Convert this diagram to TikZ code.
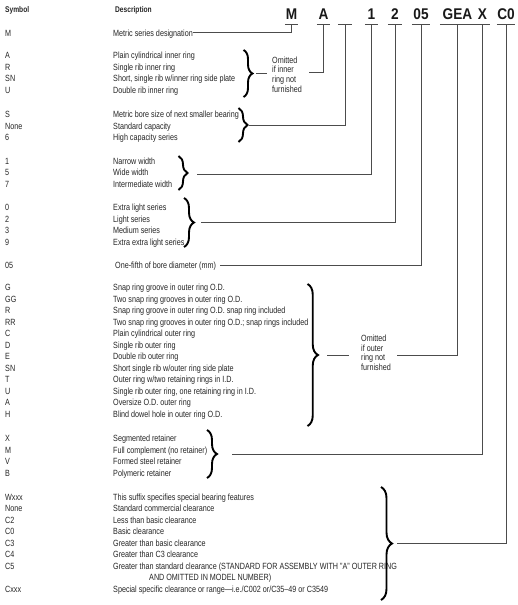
\documentclass[tikz,border=0pt]{standalone}
\usepackage{fontspec}
\setmainfont{Liberation Sans}[FakeStretch=0.8]
\newfontfamily\codefont{Liberation Sans}[FakeStretch=0.88]
\usetikzlibrary{decorations.pathreplacing}
\definecolor{txt}{gray}{0.15}
\definecolor{ln}{gray}{0.3}
\begin{document}
\begin{tikzpicture}[x=1pt,y=-1pt,
  row/.style={anchor=west, inner sep=0pt, text height=6.5pt, text depth=0pt,
    font=\fontsize{9}{11}\selectfont, text=txt},
  head/.style={anchor=west, inner sep=0pt, text height=6.5pt, text depth=0pt,
    font=\fontsize{8.3}{10}\selectfont\bfseries, text=txt},
  note/.style={anchor=north west, inner xsep=0pt, inner ysep=0pt, align=left,
    font=\fontsize{9}{9.6}\selectfont, text=txt},
  code/.style={anchor=base, inner xsep=0pt, inner ysep=4.5pt, text depth=0pt,
    font=\codefont\fontsize{15.5}{16}\selectfont\bfseries, text=black!90},
  conn/.style={draw=ln, line width=0.75pt},
  brc/.style={decorate, decoration={brace, amplitude=#1}, draw=black, line width=1.9pt},
  brc/.default=9pt]
\fill[white] (0,0) rectangle (518,605);
\useasboundingbox (0,0) rectangle (518,605);

% header
\node[head] (hS) at (5,9.3) {Symbol};
\node[head] (hD) at (115,9.3) {Description};

% code letters
\node[code, minimum width=13pt] (cM) at (291.5,19.5) {M};
\node[code, minimum width=13pt] (cA) at (323.5,19.5) {A};
\node[code, minimum width=14pt] (cB) at (345,19.5) {\phantom{0}};
\node[code, minimum width=13pt] (c1) at (371.5,19.5) {1};
\node[code, minimum width=14pt] (c2) at (395,19.5) {2};
\node[code, minimum width=18pt] (c05) at (421,19.5) {05};
\node[code, minimum width=35pt] (cG) at (457.5,19.5) {GEA};
\node[code, minimum width=15pt] (cX) at (482.5,19.5) {X};
\node[code, minimum width=18pt] (cC) at (506,19.5) {C0};
\foreach \n in {cM,cA,cB,c1,c2,c05,cG,cX,cC}
  \draw[conn] (\n.south west) -- (\n.south east);

% rows
\foreach \y/\s/\d [count=\i] in {
  33/M/Metric series designation,
  55.5/A/Plain cylindrical inner ring,
  67/R/Single rib inner ring,
  78.5/SN/{Short, single rib w/inner ring side plate},
  90/U/Double rib inner ring,
  114.5/S/Metric bore size of next smaller bearing,
  126/None/Standard capacity,
  137/6/High capacity series,
  161/1/Narrow width,
  172.5/5/Wide width,
  184/7/Intermediate width,
  207.5/0/Extra light series,
  219/2/Light series,
  230.5/3/Medium series,
  242/9/Extra extra light series,
  287.5/G/Snap ring groove in outer ring O.D.,
  299/GG/Two snap ring grooves in outer ring O.D.,
  310.5/R/Snap ring groove in outer ring O.D. snap ring included,
  322/RR/Two snap ring grooves in outer ring O.D.; snap rings included,
  333.5/C/Plain cylindrical outer ring,
  345/D/Single rib outer ring,
  356.5/E/Double rib outer ring,
  368/SN/{Short single rib w/outer ring side plate},
  379.5/T/{Outer ring w/two retaining rings in I.D.},
  391/U/{Single rib outer ring, one retaining ring in I.D.},
  402.5/A/Oversize O.D. outer ring,
  414/H/Blind dowel hole in outer ring O.D.,
  438.5/X/Segmented retainer,
  450/M/Full complement (no retainer),
  461.5/V/Formed steel retainer,
  473/B/Polymeric retainer,
  497/Wxxx/This suffix specifies special bearing features,
  508.5/None/Standard commercial clearance,
  520/C2/Less than basic clearance,
  531.5/C0/Basic clearance,
  543/C3/Greater than basic clearance,
  554.5/C4/Greater than C3 clearance,
  566/C5/{Greater than standard clearance (STANDARD FOR ASSEMBLY WITH "A" OUTER RING},
  589.5/Cxxx/{Special specific clearance or range---i.e./C002 or/C35--49 or C3549}}
{
  \node[row] (s\i) at (5,\y) {\s};
  \node[row] (d\i) at (113,\y) {\d};
}
\node[row] (s05) at (5,265) {05};
\node[row] (d05) at (115,265) {One-fifth of bore diameter (mm)};
\node[row] (dC5b) at (149,577.5) {AND OMITTED IN MODEL NUMBER)};

% notes
\node[note] (oIn) at (272,56.5) {Omitted\\if inner\\ring not\\furnished};
\node[note] (oOut) at (361,335) {Omitted\\if outer\\ring not\\furnished};

% braces
\draw[brc] (243.5,50) -- (243.5,97);
\draw[brc] (238.5,108) -- (238.5,142);
\draw[brc] (178.5,156) -- (178.5,190);
\draw[brc=10pt] (184,198) -- (184,247);
\draw[brc=10.5pt] (307.5,284) -- (307.5,426);
\draw[brc=10pt] (207,430) -- (207,478);
\draw[brc=11pt] (381,487) -- (381,600);

% connector free ends
\coordinate (tM) at (193,32.5);
\coordinate (tInL) at (256,73);
\coordinate (tInR) at (267,73);
\coordinate (tInC) at (309,72.5);
\coordinate (tS) at (249,125.5);
\coordinate (t1) at (197,174);
\coordinate (t2) at (201,222);
\coordinate (t05) at (220,265);
\coordinate (tOutL) at (327,355);
\coordinate (tOutR) at (349,355);
\coordinate (tOutC) at (397,355);
\coordinate (tX) at (232,454);
\coordinate (tC) at (397,543);

% connectors
\draw[conn] (cM.south) |- (tM);
\draw[conn] (tInL) -- (tInR);
\draw[conn] (cA.south) |- (tInC);
\draw[conn] (cB.south) |- (tS);
\draw[conn] (c1.south) |- (t1);
\draw[conn] (c2.south) |- (t2);
\draw[conn] (c05.south) |- (t05);
\draw[conn] (tOutL) -- (tOutR);
\draw[conn] (cG.south) |- (tOutC);
\draw[conn] (cX.south) |- (tX);
\draw[conn] (cC.south) |- (tC);
\end{tikzpicture}
\end{document}
